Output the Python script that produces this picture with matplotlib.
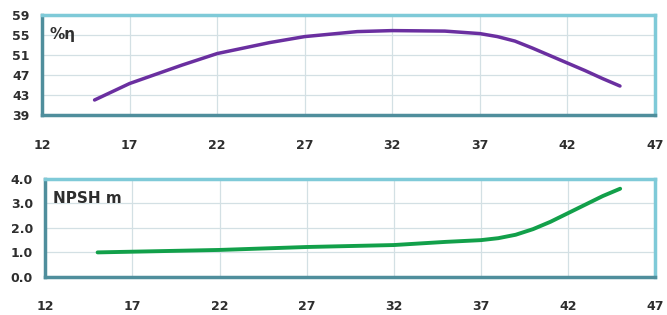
import matplotlib.pyplot as plt
import numpy as np

# efficiency curve
eff_x = [15, 17, 20, 22, 25, 27, 30, 32, 35, 37, 38, 39, 40, 41, 42, 43, 44, 45]
eff_y = [42.0, 45.3, 49.0, 51.3, 53.5, 54.7, 55.7, 55.9, 55.8, 55.3, 54.7, 53.8, 52.4, 50.9, 49.4, 47.9, 46.3, 44.8]

# NPSH curve
npsh_x = [15, 22, 27, 32, 35, 37, 38, 39, 40, 41, 42, 43, 44, 45]
npsh_y = [1.0, 1.1, 1.22, 1.3, 1.43, 1.5, 1.58, 1.72, 1.95, 2.25, 2.6, 2.95, 3.3, 3.6]

x_ticks = [12, 17, 22, 27, 32, 37, 42, 47]
eff_ticks = [39, 43, 47, 51, 55, 59]
npsh_ticks = [0, 1, 2, 3, 4]

plt.rcParams['font.family'] = ['DejaVu Sans']

fig = plt.figure(figsize=(6.67, 3.15), dpi=100)
ax1 = fig.add_axes([0.063, 0.635, 0.919, 0.317])
ax2 = fig.add_axes([0.068, 0.121, 0.914, 0.311])

def style(ax, yticks, fmt):
    ax.set_xlim(12, 47)
    ax.set_ylim(yticks[0], yticks[-1])
    ax.set_xticks(x_ticks)
    ax.set_yticks(yticks)
    ax.set_yticklabels([fmt.format(v) for v in yticks])
    ax.grid(True, color="#d3e0e4", lw=0.9)
    ax.set_axisbelow(True)
    ax.tick_params(length=0, labelsize=9, labelcolor="#2e2e2e")
    ax.tick_params(axis="x", pad=17)
    ax.tick_params(axis="y", pad=9)
    for lab in ax.get_xticklabels() + ax.get_yticklabels():
        lab.set_fontweight("bold")
    ax.spines["top"].set_color("#7fcad8")
    ax.spines["right"].set_color("#7fcad8")
    ax.spines["left"].set_color("#4f8e9c")
    ax.spines["bottom"].set_color("#4f8e9c")
    for s in ax.spines.values():
        s.set_linewidth(2.5)

style(ax1, eff_ticks, "{:d}")
style(ax2, npsh_ticks, "{:.1f}")

ax1.plot(eff_x, eff_y, color="#6a2fa0", lw=2.5, solid_capstyle="round")
ax2.plot(npsh_x, npsh_y, color="#12a04a", lw=2.8, solid_capstyle="round")

ax1.text(0.012, 0.88, "%η", transform=ax1.transAxes, fontsize=11,
         fontweight="bold", color="#2e2e2e", va="top")
ax2.text(0.012, 0.88, "NPSH m", transform=ax2.transAxes, fontsize=11,
         fontweight="bold", color="#2e2e2e", va="top")

plt.savefig("out.png", dpi=100)
